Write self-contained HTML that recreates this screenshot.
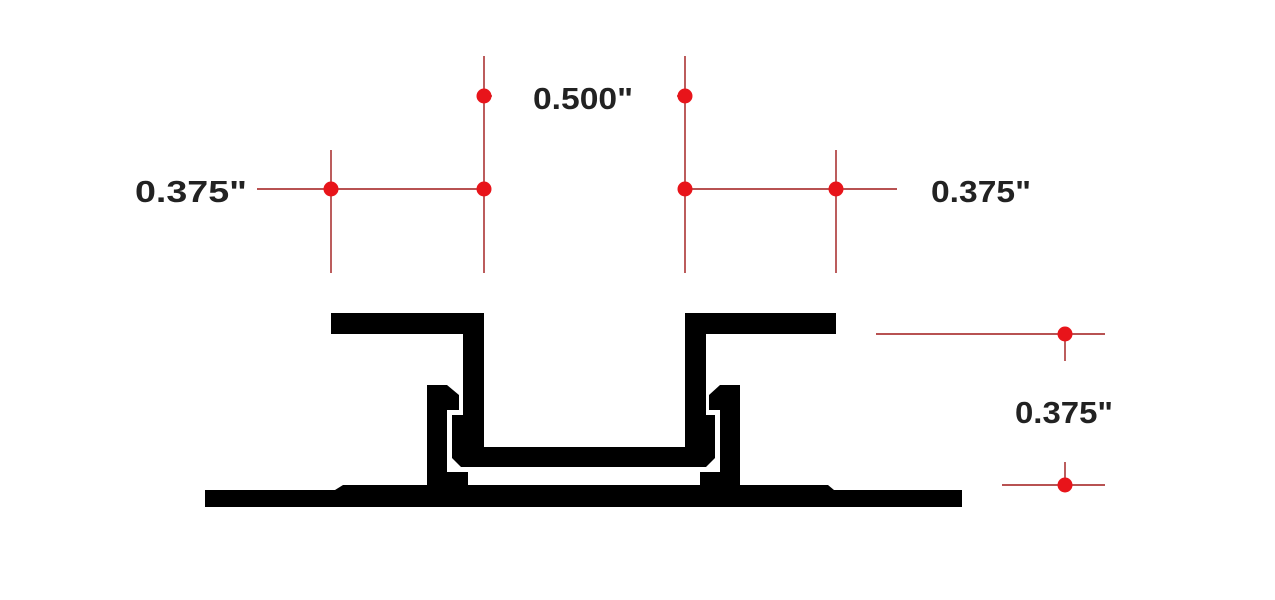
<!DOCTYPE html>
<html><head><meta charset="utf-8"><style>html,body{margin:0;padding:0;background:#fff;}svg{display:block}</style></head>
<body>
<svg width="1275" height="600" viewBox="0 0 1275 600" xmlns="http://www.w3.org/2000/svg">
<rect width="1275" height="600" fill="#fff"/>
<g stroke="#a01818" stroke-width="1.4" fill="none">
<line x1="331" y1="150" x2="331" y2="273"/>
<line x1="484" y1="56" x2="484" y2="273"/>
<line x1="484" y1="96" x2="492" y2="96"/>
<line x1="257" y1="189" x2="484" y2="189"/>
<line x1="685" y1="56" x2="685" y2="273"/>
<line x1="677" y1="96" x2="685" y2="96"/>
<line x1="836" y1="150" x2="836" y2="273"/>
<line x1="685" y1="189" x2="897" y2="189"/>
<line x1="876" y1="334" x2="1105" y2="334"/>
<line x1="1065" y1="334" x2="1065" y2="361"/>
<line x1="1002" y1="485" x2="1105" y2="485"/>
<line x1="1065" y1="462" x2="1065" y2="485"/>
</g>
<g fill="#e8141a">
<circle cx="484" cy="96" r="7.5"/><circle cx="685" cy="96" r="7.5"/>
<circle cx="331" cy="189" r="7.5"/><circle cx="484" cy="189" r="7.5"/>
<circle cx="685" cy="189" r="7.5"/><circle cx="836" cy="189" r="7.5"/>
<circle cx="1065" cy="334" r="7.5"/><circle cx="1065" cy="485" r="7.5"/>
</g>
<g fill="#000">
<polygon points="331,313 484,313 484,447 685,447 685,313 836,313 836,334 706,334 706,415 715,415 715,458 706,467 461,467 452,458 452,415 463,415 463,334 331,334"/>
<polygon points="205,490 335,490 343,485 828,485 834,490 962,490 962,507 205,507"/>
<polygon points="427,487 427,385 447,385 459,395 459,410 447,410 447,472 468,472 468,487"/>
<polygon points="740,487 740,385 720,385 709,395 709,410 720,410 720,472 700,472 700,487"/>
</g>
<g fill="#222" font-family="Liberation Sans, sans-serif" font-size="31" font-weight="bold">
<text x="135" y="202" textLength="112" lengthAdjust="spacingAndGlyphs">0.375"</text>
<text x="533" y="109" textLength="100" lengthAdjust="spacingAndGlyphs">0.500"</text>
<text x="931" y="202" textLength="100" lengthAdjust="spacingAndGlyphs">0.375"</text>
<text x="1015" y="423" textLength="98" lengthAdjust="spacingAndGlyphs">0.375"</text>
</g>
</svg>
</body></html>
